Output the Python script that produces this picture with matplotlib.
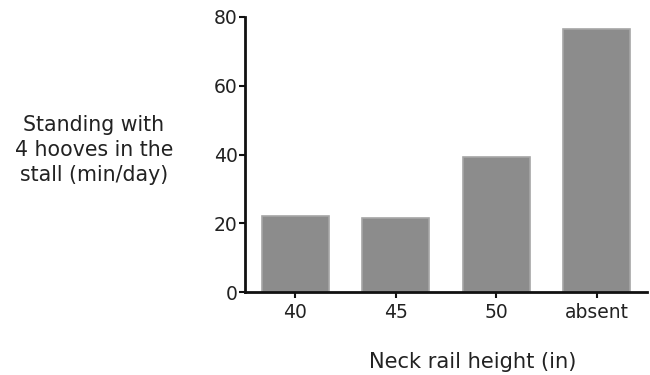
import matplotlib
matplotlib.use("Agg")
import matplotlib.pyplot as plt

categories = ["40", "45", "50", "absent"]
values = [22.1, 21.5, 39.2, 76.3]
yticks = [0, 20, 40, 60, 80]

plt.rcParams['font.family'] = ['DejaVu Sans']
fig = plt.figure(figsize=(6.5, 3.75), dpi=100)
ax = fig.add_axes([0.3774, 0.2205, 0.995 - 0.3774, 0.9555 - 0.2205])
x = range(len(categories))
ax.bar(x, values, width=0.67, color="#8c8c8c", edgecolor="#a6a6a6", linewidth=1.2, zorder=2)
ax.set_xlim(-0.5, 3.5)
ax.set_ylim(0, 80)
ax.set_yticks(yticks)
ax.set_xticks(list(x))
ax.set_xticklabels(categories)
for s in ["top", "right"]:
    ax.spines[s].set_visible(False)
for s in ["left", "bottom"]:
    ax.spines[s].set_linewidth(2)
    ax.spines[s].set_color("#111111")
    ax.spines[s].set_zorder(3)
ax.tick_params(axis="both", direction="out", length=4, width=1.5, colors="#111111", labelsize=13.5, labelcolor="#222222")
ax.tick_params(axis="y", pad=1.5)
ax.tick_params(axis="x", pad=4)
fig.text(473/650, 1 - 362/375, "Neck rail height (in)", ha="center", va="center", fontsize=15.1, color="#222222")
fig.text(94/650, 1 - 150/375, "Standing with\n4 hooves in the\nstall (min/day)", ha="center", va="center", fontsize=14.8, color="#222222", linespacing=1.3)
fig.savefig("out.png", dpi=100)
